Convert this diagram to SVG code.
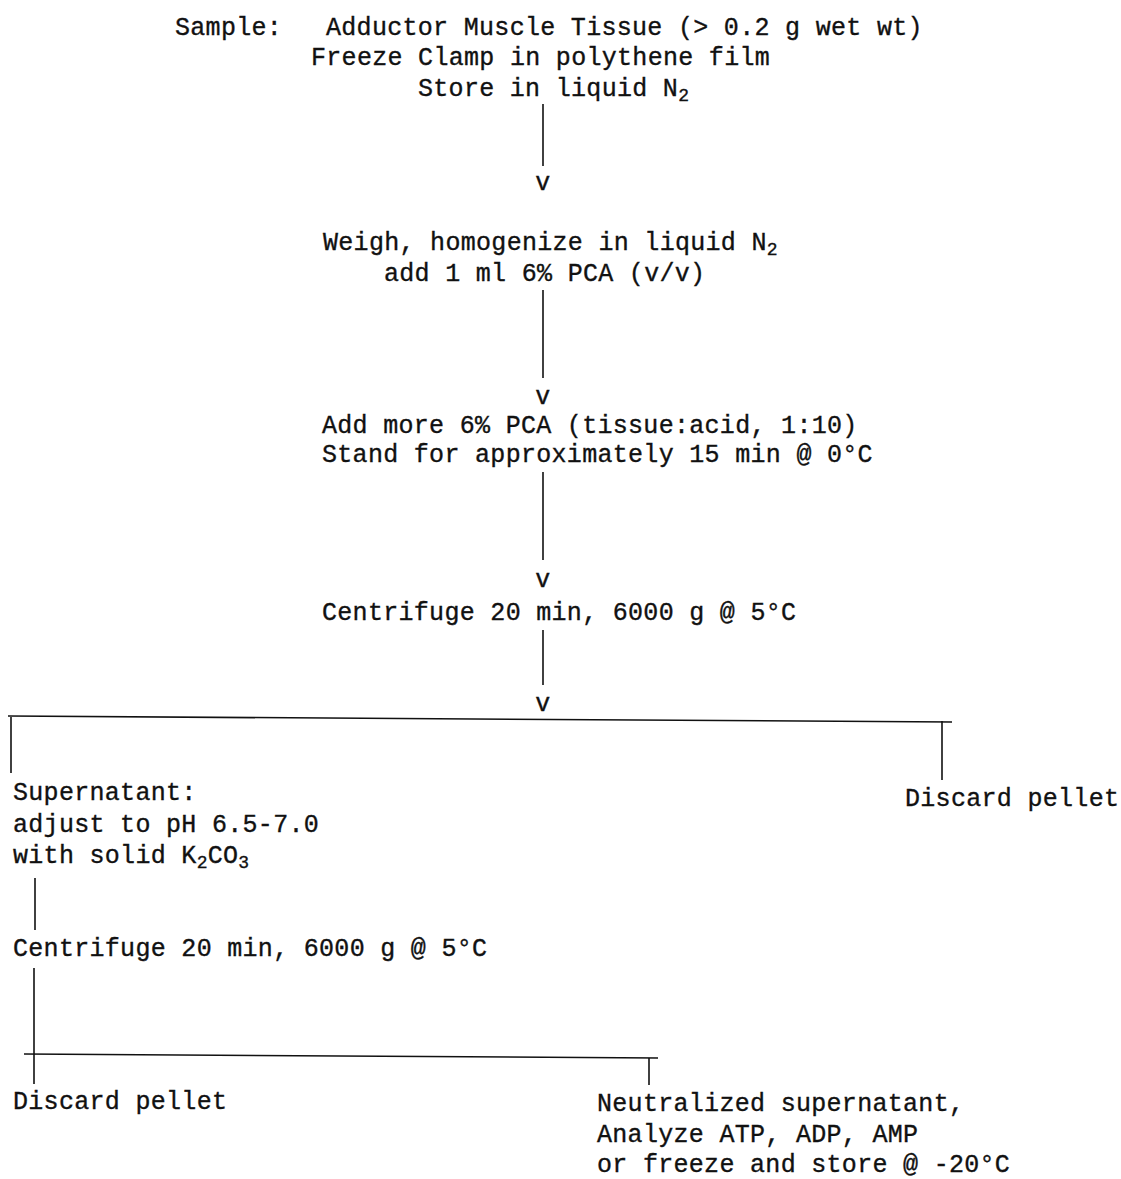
<svg xmlns="http://www.w3.org/2000/svg" width="1121" height="1179" viewBox="0 0 1121 1179">
<style>
text{font-family:"Liberation Mono","DejaVu Sans Mono",monospace;font-size:25px;fill:#111;stroke:#111;stroke-width:0.35;letter-spacing:0.3px}
.sub{font-size:18px}
.arr{text-anchor:middle}
line{stroke:#111;stroke-width:1.6;fill:none}
</style>
<rect width="1121" height="1179" fill="#fff"/>
<g id="connectors">
<line x1="543" y1="104" x2="543" y2="166"/>
<line x1="543" y1="290" x2="543" y2="378"/>
<line x1="543" y1="472" x2="543" y2="560"/>
<line x1="543" y1="630" x2="543" y2="685"/>
<line x1="8" y1="716" x2="952" y2="722"/>
<line x1="11" y1="717" x2="11" y2="773"/>
<line x1="942" y1="721" x2="942" y2="780"/>
<line x1="35" y1="878" x2="35" y2="930"/>
<line x1="34" y1="968" x2="34" y2="1084"/>
<line x1="24" y1="1054" x2="658" y2="1058"/>
<line x1="649" y1="1058" x2="649" y2="1085"/>
<text class="arr" x="543" y="190">v</text>
<text class="arr" x="543" y="404">v</text>
<text class="arr" x="543" y="587">v</text>
<text class="arr" x="543" y="711">v</text>
</g>
<g id="sample">
<text x="175" y="35">Sample:</text>
<text x="326" y="35">Adductor Muscle Tissue (&gt; 0.2 g wet wt)</text>
<text x="311" y="65">Freeze Clamp in polythene film</text>
<text x="418" y="96">Store in liquid N<tspan class="sub" dy="5">2</tspan></text>
</g>
<g id="homogenize">
<text x="323" y="250">Weigh, homogenize in liquid N<tspan class="sub" dy="5">2</tspan></text>
<text x="384" y="281">add 1 ml 6% PCA (v/v)</text>
</g>
<g id="add-pca">
<text x="322" y="433">Add more 6% PCA (tissue:acid, 1:10)</text>
<text x="322" y="462">Stand for approximately 15 min @ 0°C</text>
</g>
<g id="centrifuge1">
<text x="322" y="620">Centrifuge 20 min, 6000 g @ 5°C</text>
</g>
<g id="supernatant">
<text x="13" y="800">Supernatant:</text>
<text x="13" y="832">adjust to pH 6.5-7.0</text>
<text x="13" y="863">with solid K<tspan class="sub" dy="5">2</tspan><tspan dy="-5">CO</tspan><tspan class="sub" dy="5">3</tspan></text>
</g>
<g id="discard1">
<text x="905" y="806">Discard pellet</text>
</g>
<g id="centrifuge2">
<text x="13" y="956">Centrifuge 20 min, 6000 g @ 5°C</text>
</g>
<g id="discard2">
<text x="13" y="1109">Discard pellet</text>
</g>
<g id="neutralized">
<text x="597" y="1111">Neutralized supernatant,</text>
<text x="597" y="1142">Analyze ATP, ADP, AMP</text>
<text x="597" y="1172">or freeze and store @ -20°C</text>
</g>
</svg>
